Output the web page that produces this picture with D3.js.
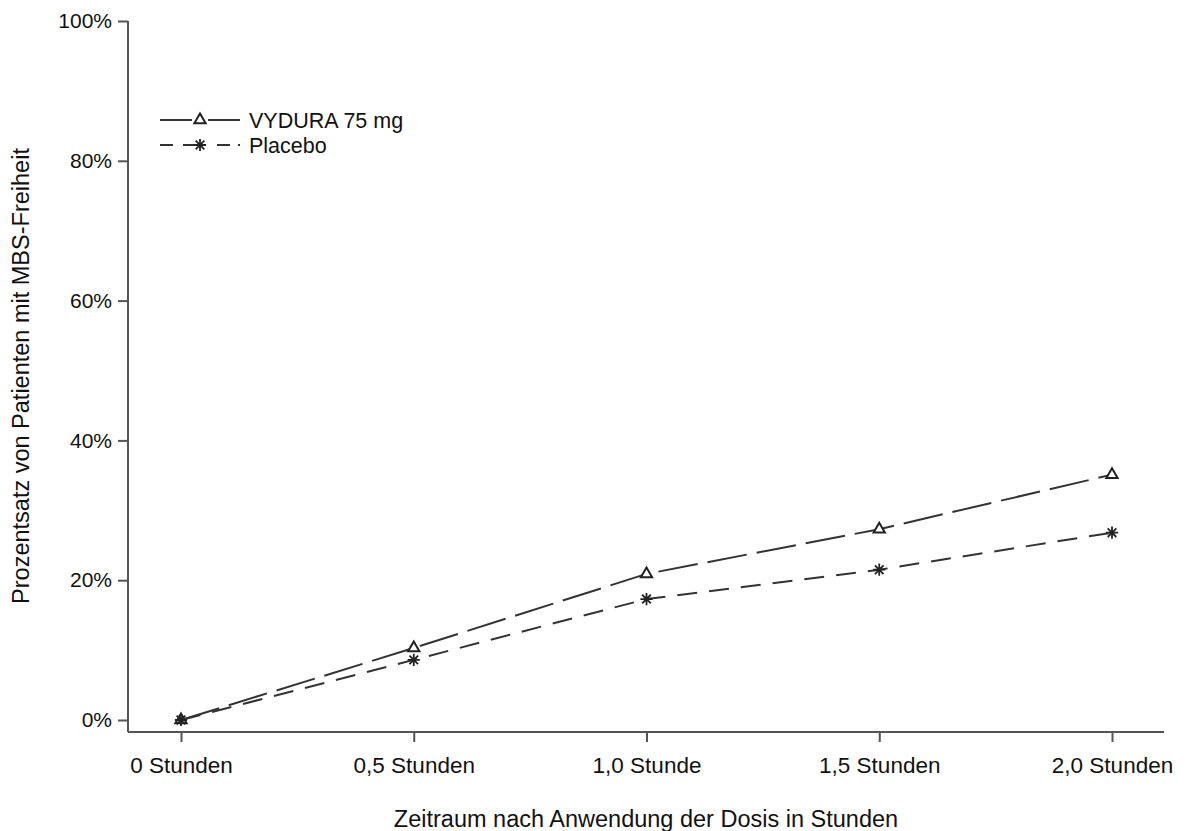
<!DOCTYPE html>
<html><head><meta charset="utf-8">
<script src="https://cdn.jsdelivr.net/npm/d3@7"></script>
<style>body{margin:0;background:#fff}svg{display:block;font-family:"Liberation Sans",Arial,sans-serif}</style>
</head><body><svg id="c" width="1195" height="831"></svg>
<script>
const timePoints = [0, 0.5, 1.0, 1.5, 2.0];
const xTickLabels = ["0 Stunden", "0,5 Stunden", "1,0 Stunde", "1,5 Stunden", "2,0 Stunden"];
const vydura = [0, 10.3, 20.9, 27.3, 35.1];
const placebo = [0, 8.6, 17.3, 21.5, 26.8];
const yTicks = [0, 20, 40, 60, 80, 100];
const seriesNames = ["VYDURA 75 mg", "Placebo"];

const svg = d3.select("#c");
const x = d3.scaleLinear().domain([0, 2]).range([181, 1112]);
const y = d3.scaleLinear().domain([0, 100]).range([720, 21]);
const axisCol = "#555", lineCol = "#333";

// 8-armed asterisk symbol type for d3.symbol
const star8 = {
  draw(ctx, size) {
    const r = Math.sqrt(size) / 2;
    for (let k = 0; k < 4; k++) {
      const a = k * Math.PI / 4;
      const dx = r * Math.cos(a), dy = r * Math.sin(a);
      ctx.moveTo(-dx, -dy); ctx.lineTo(dx, dy);
    }
  }
};

// axes
const xAxis = svg.append("g").attr("transform", "translate(0,732)")
  .call(d3.axisBottom(x).tickValues(timePoints).tickFormat((d, i) => xTickLabels[i]).tickSize(10).tickSizeOuter(0));
xAxis.select(".domain").attr("d", "M128,0H1164");
const yAxis = svg.append("g").attr("transform", "translate(128,0)")
  .call(d3.axisLeft(y).tickValues(yTicks).tickFormat(d => d + "%").tickSize(10).tickSizeOuter(0));
yAxis.select(".domain").attr("d", "M0,21V732");
[xAxis, yAxis].forEach(g => {
  g.selectAll(".domain,.tick line").attr("stroke", axisCol).attr("stroke-width", 2);
  g.selectAll("text").attr("fill", "#111").attr("font-family", "Liberation Sans, Arial, sans-serif");
});
xAxis.selectAll(".tick text").attr("font-size", 22.5).attr("y", 0).attr("dy", 41);
yAxis.selectAll(".tick text").attr("font-size", 21).attr("dx", -3);

svg.append("text").attr("x", 646).attr("y", 827).attr("text-anchor", "middle")
  .attr("font-size", 23.5).attr("fill", "#111").text("Zeitraum nach Anwendung der Dosis in Stunden");
svg.append("text").attr("transform", "translate(29,376) rotate(-90)").attr("text-anchor", "middle")
  .attr("font-size", 23.5).attr("fill", "#111").text("Prozentsatz von Patienten mit MBS-Freiheit");

const series = [
  {name: seriesNames[0], vals: vydura, dash: "40,10", sym: d3.symbolTriangle, size: 55},
  {name: seriesNames[1], vals: placebo, dash: "20,12", sym: star8, size: 150}
];
const line = d3.line().x(d => x(d[0])).y(d => y(d[1]));
series.forEach((s, si) => {
  const pts = timePoints.map((t, i) => [t, s.vals[i]]);
  svg.append("path").attr("d", line(pts)).attr("fill", "none").attr("stroke", lineCol)
    .attr("stroke-width", 2).attr("stroke-dasharray", s.dash);
  svg.selectAll(null).data(pts).enter().append("path")
    .attr("transform", d => `translate(${x(d[0])},${y(d[1])})`)
    .attr("d", d3.symbol().type(s.sym).size(s.size))
    .attr("fill", si === 0 ? "#fff" : "none").attr("stroke", "#222").attr("stroke-width", si === 0 ? 2 : 1.8);
  // legend
  const ly = 120 + si * 25;
  svg.append("line").attr("x1", 160).attr("x2", 240).attr("y1", ly).attr("y2", ly)
    .attr("stroke", lineCol).attr("stroke-width", 2).attr("stroke-dasharray", si === 0 ? "32,16,32" : "13,10,22,12,13,8,3");
  svg.append("path").attr("transform", `translate(200,${ly})`)
    .attr("d", d3.symbol().type(s.sym).size(s.size))
    .attr("fill", si === 0 ? "#fff" : "none").attr("stroke", "#222").attr("stroke-width", si === 0 ? 2 : 1.8);
  svg.append("text").attr("x", 249).attr("y", ly).attr("dy", "0.36em").attr("font-size", 21.5)
    .attr("fill", "#111").text(s.name);
});
</script></body></html>
